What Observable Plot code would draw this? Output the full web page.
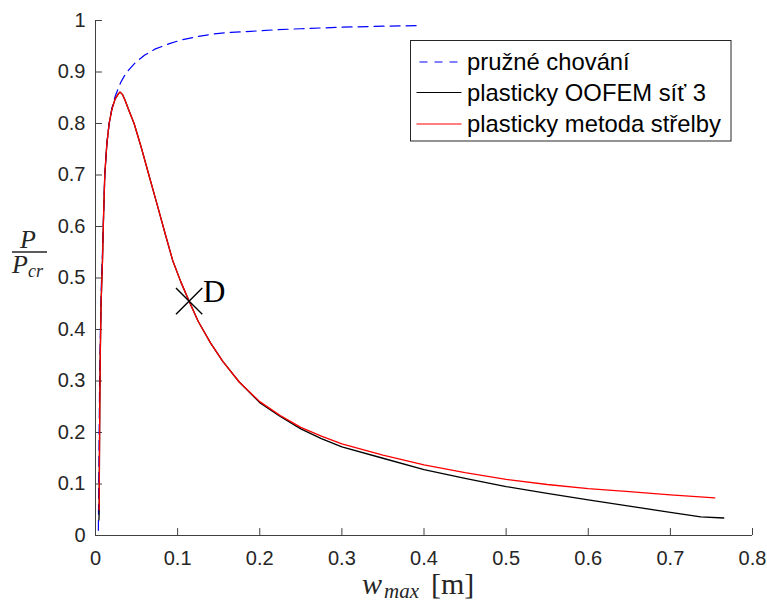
<!DOCTYPE html>
<html><head><meta charset="utf-8">
<script src="https://cdn.jsdelivr.net/npm/d3@7"></script>
<script src="https://cdn.jsdelivr.net/npm/@observablehq/plot@0.6"></script>
<style>
html,body{margin:0;padding:0;background:#fff;}
#chart{width:767px;height:605px;overflow:hidden;}
</style>
</head><body><div id="chart"></div>
<script>
// Tick values
const xTicks = [0, 0.1, 0.2, 0.3, 0.4, 0.5, 0.6, 0.7, 0.8];
const yTicks = [0, 0.1, 0.2, 0.3, 0.4, 0.5, 0.6, 0.7, 0.8, 0.9, 1];

// Series labels
const seriesNames = ["pružné chování", "plasticky OOFEM síť 3", "plasticky metoda střelby"];

// Elastic (blue dashed)
const elasticW = [0.0035, 0.004, 0.0045, 0.005, 0.006, 0.007, 0.0085, 0.0113, 0.0138, 0.0166, 0.020, 0.024, 0.027, 0.0308, 0.035, 0.040, 0.049, 0.060, 0.073, 0.090, 0.104, 0.125, 0.144, 0.165, 0.189, 0.22, 0.25, 0.30, 0.35, 0.396];
const elasticP = [0.01, 0.10, 0.20, 0.30, 0.40, 0.48, 0.55, 0.70, 0.76, 0.80, 0.83, 0.853, 0.865, 0.880, 0.892, 0.903, 0.919, 0.933, 0.945, 0.955, 0.962, 0.969, 0.974, 0.977, 0.979, 0.982, 0.984, 0.987, 0.989, 0.990];

// Plastic OOFEM mesh 3 (black)
const oofemW = [0.0042, 0.0045, 0.0048, 0.0052, 0.0058, 0.0068, 0.0085, 0.0098, 0.0113, 0.0138, 0.0166, 0.020, 0.024, 0.028, 0.030, 0.033, 0.036, 0.040, 0.047, 0.056, 0.065, 0.075, 0.085, 0.094, 0.104, 0.114, 0.125, 0.140, 0.155, 0.175, 0.200, 0.225, 0.250, 0.275, 0.300, 0.350, 0.400, 0.450, 0.500, 0.550, 0.600, 0.650, 0.700, 0.737, 0.765];
const oofemP = [0.03, 0.05, 0.15, 0.25, 0.35, 0.45, 0.534, 0.62, 0.70, 0.76, 0.80, 0.828, 0.848, 0.858, 0.861, 0.856, 0.845, 0.828, 0.80, 0.752, 0.70, 0.643, 0.585, 0.534, 0.492, 0.455, 0.416, 0.374, 0.338, 0.298, 0.258, 0.231, 0.207, 0.188, 0.172, 0.150, 0.128, 0.111, 0.095, 0.082, 0.069, 0.057, 0.045, 0.036, 0.034];

// Plastic shooting method (red)
const shootW = [0.0045, 0.0048, 0.0052, 0.0058, 0.0068, 0.0085, 0.0098, 0.0113, 0.0138, 0.0166, 0.020, 0.024, 0.028, 0.030, 0.033, 0.036, 0.040, 0.047, 0.056, 0.065, 0.075, 0.085, 0.094, 0.104, 0.114, 0.125, 0.140, 0.155, 0.175, 0.200, 0.225, 0.250, 0.275, 0.300, 0.350, 0.400, 0.450, 0.500, 0.550, 0.600, 0.650, 0.700, 0.754];
const shootP = [0.05, 0.15, 0.25, 0.35, 0.45, 0.534, 0.62, 0.70, 0.76, 0.80, 0.828, 0.848, 0.858, 0.861, 0.856, 0.845, 0.828, 0.80, 0.752, 0.70, 0.643, 0.585, 0.534, 0.492, 0.455, 0.416, 0.374, 0.338, 0.298, 0.260, 0.233, 0.210, 0.193, 0.178, 0.156, 0.137, 0.122, 0.109, 0.099, 0.091, 0.085, 0.079, 0.073];

// Point D
const pointLabels = ["D"];
const pointW = [0.114];
const pointP = [0.455];

const toRows = (ws, ps) => ws.map((w, i) => ({w, p: ps[i]}));
const elastic = toRows(elasticW, elasticP);
const oofem = toRows(oofemW, oofemP);
const shoot = toRows(shootW, shootP);
const points = pointLabels.map((t, i) => ({t, w: pointW[i], p: pointP[i]}));

const sans = "'Liberation Sans', Arial, sans-serif";
const serif = "'Liberation Serif', 'DejaVu Serif', serif";
const axisColor = "#262626";

const chart = Plot.plot({
  width: 767, height: 605,
  marginLeft: 95, marginRight: 15, marginTop: 20, marginBottom: 70,
  x: {domain: [0, 0.8]},
  y: {domain: [0, 1]},
  style: {fontFamily: sans, fontSize: "20px", color: axisColor, background: "white", overflow: "visible"},
  marks: [
    Plot.ruleX([0], {y1: 0, y2: 1, stroke: "#404040", strokeWidth: 1}),
    Plot.ruleY([0], {x1: 0, x2: 0.8, stroke: "#404040", strokeWidth: 1}),
    Plot.ruleY(yTicks, {y: d => d, x1: 0, x2: 0.0085, stroke: "#404040"}),
    Plot.ruleX(xTicks, {x: d => d, y1: 0, y2: 0.0135, stroke: "#404040"}),
    Plot.axisX({ticks: xTicks, tickSize: 0, tickPadding: 15, tickFormat: d => String(d), label: null}),
    Plot.axisY({ticks: yTicks, tickSize: 0, tickPadding: 10, tickFormat: d => String(d), label: null}),
    Plot.line(elastic, {x: "w", y: "p", stroke: "#0000ff", strokeWidth: 1.2, strokeDasharray: "10,6"}),
    Plot.line(oofem, {x: "w", y: "p", stroke: "#000000", strokeWidth: 1.3}),
    Plot.line(shoot, {x: "w", y: "p", stroke: "#ff0000", strokeWidth: 1.3}),
    Plot.dot(points, {x: "w", y: "p", symbol: "times", r: 12, stroke: "#000", strokeWidth: 1.4}),
    Plot.text(points, {x: "w", y: "p", text: "t", dx: 14, dy: -9, textAnchor: "start", fontFamily: serif, fontSize: 31, fill: "#000"})
  ]
});

document.getElementById("chart").appendChild(chart);

// Extra annotations: axis titles and legend
const svg = d3.select(chart);

// x label: w_max [m]
const xl = svg.append("text").attr("x", 362).attr("y", 594).attr("text-anchor", "start")
  .attr("font-family", serif).attr("font-size", 30).attr("fill", axisColor);
xl.append("tspan").attr("font-style", "italic").text("w");
xl.append("tspan").attr("font-style", "italic").attr("font-size", 21).attr("dy", 4).attr("dx", 2).text("max");
xl.append("tspan").attr("dy", -4).attr("dx", 12).text("[m]");

// y label: P / P_cr
svg.append("text").attr("x", 28).attr("y", 247.5).attr("text-anchor", "middle")
  .attr("font-family", serif).attr("font-size", 26).attr("font-style", "italic").attr("fill", axisColor).text("P");
svg.append("line").attr("x1", 12).attr("x2", 47).attr("y1", 252).attr("y2", 252)
  .attr("stroke", axisColor).attr("stroke-width", 1.7);
const yl2 = svg.append("text").attr("x", 12).attr("y", 272.5).attr("text-anchor", "start")
  .attr("font-family", serif).attr("font-size", 26).attr("font-style", "italic").attr("fill", axisColor);
yl2.append("tspan").text("P");
yl2.append("tspan").attr("font-size", 18).attr("dy", 4).text("cr");

// Legend
const lg = svg.append("g");
lg.append("rect").attr("x", 410.5).attr("y", 40.5).attr("width", 320.5).attr("height", 100.5)
  .attr("fill", "white").attr("stroke", axisColor).attr("stroke-width", 1);
const legendStyles = [
  {stroke: "#0000ff", dash: "10,6"},
  {stroke: "#000000", dash: null},
  {stroke: "#ff0000", dash: null}
];
const rowsY = [62, 92.5, 124];
seriesNames.forEach((name, i) => {
  const l = lg.append("line").attr("x1", 416.5).attr("x2", 461.5).attr("y1", rowsY[i]).attr("y2", rowsY[i])
    .attr("stroke", legendStyles[i].stroke).attr("stroke-width", 1.2);
  if (legendStyles[i].dash) l.attr("stroke-dasharray", "8,7").attr("stroke-dashoffset", -3);
  lg.append("text").attr("x", 467).attr("y", rowsY[i]).attr("dy", "0.35em").attr("text-anchor", "start")
    .attr("font-family", sans).attr("font-size", 23.8).attr("fill", "#000").text(name);
});
</script>
</body></html>
